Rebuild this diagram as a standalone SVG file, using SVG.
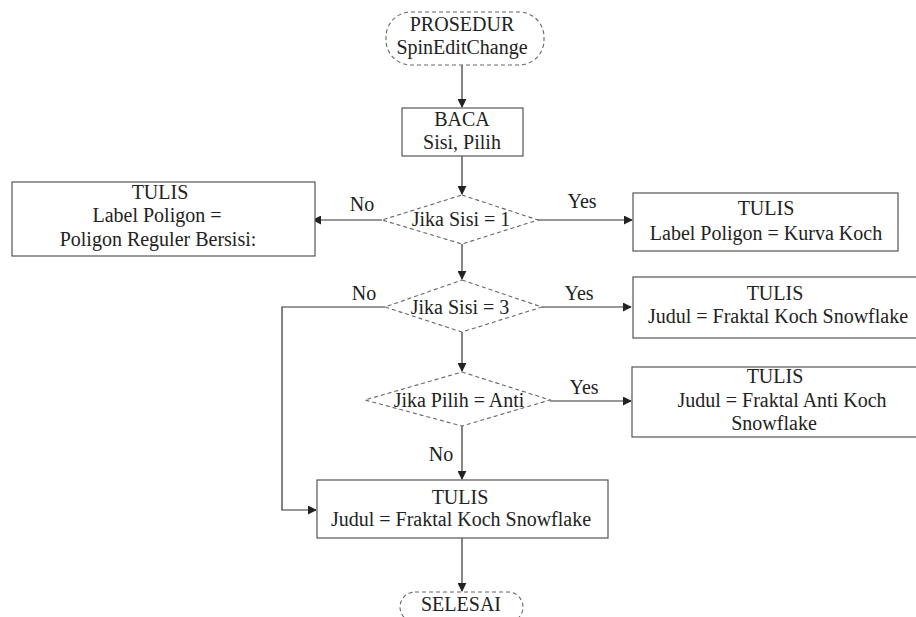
<svg xmlns="http://www.w3.org/2000/svg" width="916" height="617" viewBox="0 0 916 617">
  <defs>
    <style>
      .box { fill: #fff; stroke: #555; stroke-width: 1.2; }
      .dash { fill: #fff; stroke: #666; stroke-width: 1.1; stroke-dasharray: 4 3; }
      .line { fill: none; stroke: #333; stroke-width: 1.2; }
    </style>
    <marker id="arrow" viewBox="0 0 10 10" refX="9" refY="5" markerWidth="9" markerHeight="9" orient="auto" markerUnits="userSpaceOnUse">
      <path d="M0,0 L10,5 L0,10 z" fill="#222"/>
    </marker>
  </defs>
  <rect width="916" height="617" fill="#fff"/>

  <g id="connectors">
    <line class="line" x1="462" y1="65" x2="462" y2="107" marker-end="url(#arrow)"/>
    <line class="line" x1="462" y1="156" x2="462" y2="194" marker-end="url(#arrow)"/>
    <line class="line" x1="382" y1="220" x2="313" y2="220" marker-end="url(#arrow)"/>
    <line class="line" x1="538" y1="220" x2="632" y2="220" marker-end="url(#arrow)"/>
    <line class="line" x1="462" y1="244" x2="462" y2="279" marker-end="url(#arrow)"/>
    <polyline class="line" points="385,307 282,307 282,510 316,510" marker-end="url(#arrow)"/>
    <line class="line" x1="542" y1="307" x2="631" y2="307" marker-end="url(#arrow)"/>
    <line class="line" x1="462" y1="332" x2="462" y2="371" marker-end="url(#arrow)"/>
    <line class="line" x1="550" y1="401" x2="631" y2="401" marker-end="url(#arrow)"/>
    <line class="line" x1="462" y1="426" x2="462" y2="479" marker-end="url(#arrow)"/>
    <line class="line" x1="462" y1="538" x2="462" y2="591" marker-end="url(#arrow)"/>
    <text x="362" y="211" font-family="Liberation Serif" font-size="20" fill="#222" text-anchor="middle">No</text>
    <text x="582" y="208" font-family="Liberation Serif" font-size="20" fill="#222" text-anchor="middle">Yes</text>
    <text x="364" y="300" font-family="Liberation Serif" font-size="20" fill="#222" text-anchor="middle">No</text>
    <text x="579" y="300" font-family="Liberation Serif" font-size="20" fill="#222" text-anchor="middle">Yes</text>
    <text x="584" y="394" font-family="Liberation Serif" font-size="20" fill="#222" text-anchor="middle">Yes</text>
    <text x="441" y="461" font-family="Liberation Serif" font-size="20" fill="#222" text-anchor="middle">No</text>
  </g>

  <g id="start">
    <rect class="dash" x="386" y="12" width="158" height="53" rx="25"/>
    <text x="462" y="31" font-family="Liberation Serif" font-size="20" fill="#222" text-anchor="middle">PROSEDUR</text>
    <text x="462" y="54" font-family="Liberation Serif" font-size="20" fill="#222" text-anchor="middle">SpinEditChange</text>
  </g>

  <g id="read">
    <rect class="box" x="402" y="108" width="121" height="48"/>
    <text x="462" y="126" font-family="Liberation Serif" font-size="20" fill="#222" text-anchor="middle">BACA</text>
    <text x="462" y="149" font-family="Liberation Serif" font-size="20" fill="#222" text-anchor="middle">Sisi, Pilih</text>
  </g>

  <g id="cond-sisi1">
    <polygon class="dash" points="462,195 538,220 462,244 382,220"/>
    <text x="461" y="226" font-family="Liberation Serif" font-size="20" fill="#222" text-anchor="middle">Jika Sisi = 1</text>
  </g>

  <g id="write-poligon">
    <rect class="box" x="12" y="182" width="303" height="74"/>
    <text x="160" y="199" font-family="Liberation Serif" font-size="20" fill="#222" text-anchor="middle">TULIS</text>
    <text x="157" y="222" font-family="Liberation Serif" font-size="20" fill="#222" text-anchor="middle">Label Poligon =</text>
    <text x="158" y="246" font-family="Liberation Serif" font-size="20" fill="#222" text-anchor="middle">Poligon Reguler Bersisi:</text>
  </g>

  <g id="write-kurva">
    <rect class="box" x="633" y="193" width="265" height="58"/>
    <text x="766" y="215" font-family="Liberation Serif" font-size="20" fill="#222" text-anchor="middle">TULIS</text>
    <text x="766" y="240" font-family="Liberation Serif" font-size="20" fill="#222" text-anchor="middle">Label Poligon = Kurva Koch</text>
  </g>

  <g id="cond-sisi3">
    <polygon class="dash" points="462,280 542,307 462,332 385,307"/>
    <text x="460" y="314" font-family="Liberation Serif" font-size="20" fill="#222" text-anchor="middle">Jika Sisi = 3</text>
  </g>

  <g id="write-snowflake">
    <rect class="box" x="633" y="277" width="290" height="61"/>
    <text x="775" y="300" font-family="Liberation Serif" font-size="20" fill="#222" text-anchor="middle">TULIS</text>
    <text x="778" y="323" font-family="Liberation Serif" font-size="20" fill="#222" text-anchor="middle">Judul = Fraktal Koch Snowflake</text>
  </g>

  <g id="cond-anti">
    <polygon class="dash" points="462,372 550,400 462,426 365,400"/>
    <text x="459" y="407" font-family="Liberation Serif" font-size="20" fill="#222" text-anchor="middle">Jika Pilih = Anti</text>
  </g>

  <g id="write-anti">
    <rect class="box" x="632" y="367" width="290" height="70"/>
    <text x="775" y="383" font-family="Liberation Serif" font-size="20" fill="#222" text-anchor="middle">TULIS</text>
    <text x="782" y="407" font-family="Liberation Serif" font-size="20" fill="#222" text-anchor="middle">Judul = Fraktal Anti Koch</text>
    <text x="774" y="430" font-family="Liberation Serif" font-size="20" fill="#222" text-anchor="middle">Snowflake</text>
  </g>

  <g id="write-default">
    <rect class="box" x="317" y="480" width="291" height="58"/>
    <text x="460" y="504" font-family="Liberation Serif" font-size="20" fill="#222" text-anchor="middle">TULIS</text>
    <text x="461" y="526" font-family="Liberation Serif" font-size="20" fill="#222" text-anchor="middle">Judul = Fraktal Koch Snowflake</text>
  </g>

  <g id="end">
    <rect class="dash" x="400" y="592" width="123" height="30" rx="15"/>
    <text x="461" y="611" font-family="Liberation Serif" font-size="20" fill="#222" text-anchor="middle">SELESAI</text>
  </g>
</svg>
